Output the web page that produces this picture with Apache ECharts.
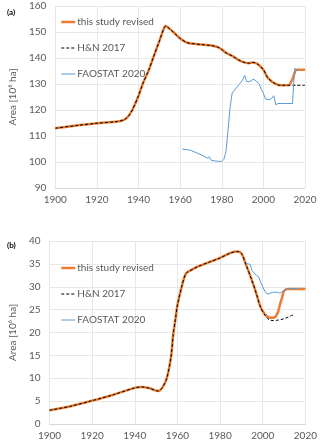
<!DOCTYPE html>
<html>
<head>
<meta charset="utf-8">
<script src="https://cdn.jsdelivr.net/npm/echarts@6/dist/echarts.min.js"></script>
<style>
  html, body { margin: 0; padding: 0; background: #fff; }
  #chartmain { width: 320px; height: 442px; }
</style>
</head>
<body>
<div id="chartmain"></div>
<script>
// panel (a) data, [year, area in 10^6 ha]
var studyA = [[1900,113],[1910,114],[1920,114.9],[1930,115.6],[1933,116.2],[1935,117.5],[1937,120],[1940,125.5],
  [1942,130],[1945,135.5],[1947,140],[1950,146.5],[1952,151],[1953,152.3],[1955,151.2],[1958,149],[1960,147.5],
  [1963,146],[1965,145.6],[1970,145.2],[1975,144.8],[1978,144.2],[1980,143.3],[1982,142],[1985,140.8],[1988,139.3],
  [1990,138.5],[1993,138],[1995,138.3],[1997,137.8],[2000,135.5],[2002,132.5],[2004,131],[2006,130],[2008,129.5],
  [2010,129.5],[2012,129.5],[2014,132],[2016,135.5],[2018,135.5],[2020,135.5]];
var hnA = [[1900,113],[1910,114],[1920,114.9],[1930,115.6],[1933,116.2],[1935,117.5],[1937,120],[1940,125.5],
  [1942,130],[1945,135.5],[1947,140],[1950,146.5],[1952,151],[1953,152.3],[1955,151.2],[1958,149],[1960,147.5],
  [1963,146],[1965,145.6],[1970,145.2],[1975,144.8],[1978,144.2],[1980,143.3],[1982,142],[1985,140.8],[1988,139.3],
  [1990,138.5],[1993,138],[1995,138.3],[1997,137.8],[2000,135.5],[2002,132.5],[2004,131],[2006,130],[2008,129.5],
  [2010,129.5],[2012,129.5],[2016,129.5],[2020,129.5]];
var faoA = [[1961,105],[1965,104.5],[1970,102.8],[1973,101.5],[1974,102],[1975,100.6],[1978,100.3],[1980,100.2],
  [1981,101],[1982,104],[1983,112],[1984,121],[1985,126.5],[1986,127.5],[1988,129.5],[1990,131.5],[1991,133.3],
  [1992,131],[1993,130.8],[1994,131.2],[1995,131.8],[1996,131.5],[1998,130],[1999,128],[2000,126.5],[2001,124.2],
  [2003,124],[2004,124.5],[2005,125.5],[2006,122],[2007,122.5],[2010,122.5],[2014,122.5],[2015,136],[2016,135.5],[2017,135.5]];

// panel (b) data
var studyB = [[1900,3],[1910,3.9],[1920,5.1],[1930,6.4],[1940,7.9],[1943,8.1],[1947,7.8],[1951,7.2],[1953,8],
  [1955,10],[1957,14.7],[1958,19.5],[1959,22.7],[1960,26],[1962,30],[1964,32.9],[1967,33.8],[1970,34.5],[1975,35.4],
  [1980,36.3],[1985,37.4],[1988,37.7],[1990,37.3],[1992,35],[1995,31.3],[1997,28.5],[1999,25.5],[2001,24],
  [2003,23.3],[2005,23.2],[2007,24.3],[2008,26],[2009,27.5],[2010,29.1],[2012,29.5],[2015,29.5],[2020,29.5]];
var hnB = [[1900,3],[1910,3.9],[1920,5.1],[1930,6.4],[1940,7.9],[1943,8.1],[1947,7.8],[1951,7.2],[1953,8],
  [1955,10],[1957,14.7],[1958,19.5],[1959,22.7],[1960,26],[1962,30],[1964,32.9],[1967,33.8],[1970,34.5],[1975,35.4],
  [1980,36.3],[1985,37.4],[1988,37.7],[1990,37.3],[1992,35],[1995,31.3],[1997,28.5],[1999,25.5],[2001,23.8],
  [2003,22.8],[2005,22.6],[2007,22.7],[2010,23],[2013,23.6],[2015,24]];
var faoB = [[1992,35.2],[1993,35],[1994,34.9],[1995,33.5],[1996,33],[1997,32.5],[1998,32.2],[1999,31],[2000,30],
  [2001,29],[2002,28.4],[2003,28.5],[2005,28.8],[2007,28.8],[2008,28.6],[2009,28.9],[2010,29.2],[2012,29.5],
  [2014,29.6],[2017,29.6]];

var names = ['this study revised', 'H&N 2017', 'FAOSTAT 2020'];
var grey = '#595959';
var font = 'Lato';

function xAx(idx) {
  return {
    type: 'value', gridIndex: idx, min: 1900, max: 2020, interval: 20,
    axisLine: { lineStyle: { color: '#D9D9D9' } },
    axisTick: { show: false },
    axisLabel: { color: grey, fontSize: 10, fontFamily: font, margin: 7,
      formatter: function (v) { return String(v); } },
    splitLine: { lineStyle: { color: '#E8E8E8' } }
  };
}
function yAx(idx, mn, mx, step) {
  return {
    type: 'value', gridIndex: idx, min: mn, max: mx, interval: step,
    name: 'Area [10\u2076 ha]', nameLocation: 'middle', nameGap: 30,
    nameTextStyle: { color: grey, fontSize: 10, fontFamily: font },
    axisLine: { show: false }, axisTick: { show: false },
    axisLabel: { color: grey, fontSize: 10, fontFamily: font, margin: 9 },
    splitLine: { lineStyle: { color: '#E8E8E8' } }
  };
}
function lines(idx, study, hn, fao) {
  return [
    { name: names[0], type: 'line', xAxisIndex: idx, yAxisIndex: idx, data: study, smooth: 0.3,
      showSymbol: false, symbol: 'none', lineStyle: { color: '#ED7D31', width: 2.5 }, itemStyle: { color: '#ED7D31' } },
    { name: names[1], type: 'line', xAxisIndex: idx, yAxisIndex: idx, data: hn, smooth: 0.3,
      showSymbol: false, symbol: 'none', lineStyle: { color: '#000', width: 1, type: [3, 2] }, itemStyle: { color: '#000' } },
    { name: names[2], type: 'line', xAxisIndex: idx, yAxisIndex: idx, data: fao,
      showSymbol: false, symbol: 'none', lineStyle: { color: '#5B9BD5', width: 1 }, itemStyle: { color: '#5B9BD5' } }
  ];
}
function leg(top) {
  return {
    data: [
      { name: names[0], lineStyle: { width: 2.5 } },
      { name: names[1], lineStyle: { width: 1, type: [3, 2] } },
      { name: names[2], lineStyle: { width: 1 } }
    ],
    orient: 'vertical', left: 55, top: top,
    itemWidth: 14, itemHeight: 10, itemGap: 16,
    itemStyle: { opacity: 0 },
    textStyle: { color: grey, fontSize: 10, fontFamily: font, padding: [0, 0, 0, -3] }
  };
}

var myChart = echarts.init(document.getElementById('chartmain'));
var option = {
  animation: false,
  title: [
    { text: '(a)', left: 2, top: 3, textStyle: { fontSize: 8, fontWeight: 'bold', color: '#000', fontFamily: font } },
    { text: '(b)', left: 2, top: 236, textStyle: { fontSize: 8, fontWeight: 'bold', color: '#000', fontFamily: font } }
  ],
  legend: [leg(12), leg(258)],
  grid: [
    { left: 49, right: 15, top: 6, height: 182 },
    { left: 47, right: 12, top: 241, height: 183 }
  ],
  xAxis: [xAx(0), xAx(1)],
  yAxis: [yAx(0, 90, 160, 10), yAx(1, 0, 40, 5)],
  series: lines(0, studyA, hnA, faoA).concat(lines(1, studyB, hnB, faoB))
};
myChart.setOption(option);
</script>
</body>
</html>
